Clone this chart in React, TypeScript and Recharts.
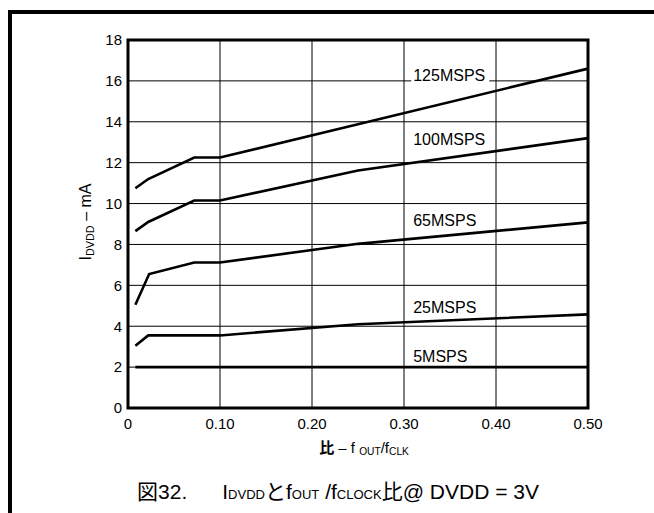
import React from "react";
import { LineChart, Line, XAxis, YAxis, CartesianGrid, ReferenceArea, ReferenceDot } from "recharts";

const xTicks = [0, 0.1, 0.2, 0.3, 0.4, 0.5];
const yTicks = [0, 2, 4, 6, 8, 10, 12, 14, 16, 18];

const x125 = [0.008, 0.022, 0.072, 0.1, 0.5];
const i125 = [10.75, 11.2, 12.25, 12.25, 16.6];
const x100 = [0.008, 0.022, 0.072, 0.1, 0.25, 0.5];
const i100 = [8.65, 9.1, 10.15, 10.15, 11.62, 13.2];
const x65 = [0.008, 0.023, 0.072, 0.1, 0.25, 0.5];
const i65 = [5.05, 6.55, 7.12, 7.12, 8.03, 9.08];
const x25 = [0.008, 0.022, 0.1, 0.25, 0.5];
const i25 = [3.05, 3.55, 3.55, 4.1, 4.58];
const x5 = [0.008, 0.5];
const i5 = [2.0, 2.0];

const seriesNames = ["125MSPS", "100MSPS", "65MSPS", "25MSPS", "5MSPS"];
const labelX = [0.31, 0.31, 0.31, 0.31, 0.31];
const labelY = [16.3, 13.17, 9.17, 4.93, 2.55];

const zip = (xs: number[], ys: number[]) => xs.map((x, i) => ({ x, y: ys[i] }));
const series = [
  zip(x125, i125),
  zip(x100, i100),
  zip(x65, i65),
  zip(x25, i25),
  zip(x5, i5),
];

const FONT = "'Liberation Sans', Arial, 'Noto Sans CJK JP', sans-serif";

const SeriesLabel = (props: any) => {
  const { viewBox, value } = props;
  const x = viewBox.x;
  const y = viewBox.y;
  const w = value.length * 10.3 + 6;
  return (
    <g>
      <rect x={x - 2} y={y - 8} width={w} height={16} fill="#fff" />
      <text x={x} y={y} dy="0.36em" fontSize={16} fontFamily={FONT} fill="#000">
        {value}
      </text>
    </g>
  );
};

const subStyle: React.CSSProperties = { fontSize: "0.68em", verticalAlign: "-0.25em" };
const capSub: React.CSSProperties = { fontSize: "0.62em" };

export default function App() {
  return (
    <div style={{ position: "fixed", left: 0, top: 0, width: 654, height: 513, background: "#fff", overflow: "hidden", fontFamily: FONT }}>
      <div style={{ position: "absolute", left: 8, top: 10, width: 646, height: 4, background: "#000" }} />
      <div style={{ position: "absolute", left: 8, top: 10, width: 4, height: 503, background: "#000" }} />
      <div style={{ position: "absolute", left: 0, top: 0 }}>
        <LineChart width={654} height={513} margin={{ top: 40, right: 66, bottom: 75, left: 68 }}>
          <CartesianGrid stroke="#000" strokeWidth={1} horizontalValues={yTicks} verticalValues={xTicks} />
          <XAxis
            type="number"
            dataKey="x"
            domain={[0, 0.5]}
            ticks={xTicks}
            height={30}
            axisLine={false}
            tickLine={false}
            tickSize={0}
            tickMargin={10}
            tick={{ fill: "#000", fontSize: 15, fontFamily: FONT }}
            tickFormatter={(v: number) => (v === 0 ? "0" : v.toFixed(2))}
            interval={0}
          />
          <YAxis
            type="number"
            dataKey="y"
            domain={[0, 18]}
            ticks={yTicks}
            width={60}
            axisLine={false}
            tickLine={false}
            tickSize={0}
            tickMargin={6}
            tick={{ fill: "#000", fontSize: 15, fontFamily: FONT }}
            interval={0}
          />
          {series.map((d, i) => (
            <Line
              key={seriesNames[i]}
              data={d}
              dataKey="y"
              type="linear"
              stroke="#000"
              strokeWidth={2.6}
              dot={false}
              isAnimationActive={false}
            />
          ))}
          <ReferenceArea x1={0} x2={0.5} y1={0} y2={18} fill="none" stroke="#000" strokeWidth={3} ifOverflow="visible" />
          {seriesNames.map((n, i) => (
            <ReferenceDot
              key={n}
              x={labelX[i]}
              y={labelY[i]}
              r={0}
              fill="none"
              stroke="none"
              ifOverflow="visible"
              label={{ value: n, content: SeriesLabel }}
            />
          ))}
        </LineChart>
      </div>
      <div
        style={{
          position: "absolute",
          left: 87,
          top: 222,
          transform: "translate(-50%, -50%) rotate(-90deg)",
          whiteSpace: "nowrap",
          fontSize: 16,
          lineHeight: 1,
        }}
      >
        I<span style={subStyle}>DVDD</span> – mA
      </div>
      <div
        style={{
          position: "absolute",
          left: 364,
          top: 448,
          transform: "translate(-50%, -50%)",
          whiteSpace: "nowrap",
          fontSize: 15,
          lineHeight: 1,
        }}
      >
        <b style={{ fontFamily: "'Noto Sans CJK JP', sans-serif" }}>比</b> – f <span style={subStyle}>OUT</span>/f<span style={subStyle}>CLK</span>
      </div>
      <div
        style={{
          position: "absolute",
          left: 338,
          top: 491,
          transform: "translate(-50%, -50%)",
          whiteSpace: "nowrap",
          fontSize: 21,
          lineHeight: 1,
        }}
      >
        図32.&nbsp;&nbsp;&nbsp;&nbsp;&nbsp; I<span style={capSub}>DVDD</span>とf<span style={capSub}>OUT</span> /f<span style={capSub}>CLOCK</span>比@ DVDD = 3V
      </div>
    </div>
  );
}
